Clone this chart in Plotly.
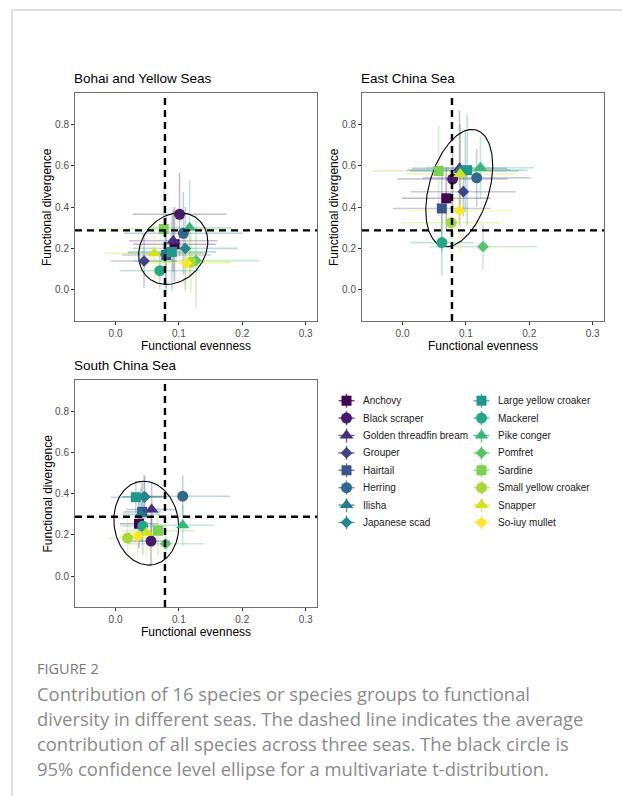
import numpy as np
import plotly.graph_objects as go

# ---------------------------------------------------------------- data
species = [
    "Anchovy", "Black scraper", "Golden threadfin bream", "Grouper",
    "Hairtail", "Herring", "Ilisha", "Japanese scad",
    "Large yellow croaker", "Mackerel", "Pike conger", "Pomfret",
    "Sardine", "Small yellow croaker", "Snapper", "So-iuy mullet",
]

seas = ["Bohai and Yellow Seas", "East China Sea", "South China Sea"]

# functional evenness (FE) and functional divergence (FD) contributions, mean and sd
bohai_fe = [0.093, 0.101, 0.091, 0.045, 0.080, 0.107, 0.079, 0.110,
            0.089, 0.070, 0.117, 0.127, 0.076, 0.119, 0.061, 0.112]
bohai_fd = [0.221, 0.366, 0.238, 0.140, 0.169, 0.274, 0.178, 0.201,
            0.184, 0.093, 0.301, 0.142, 0.295, 0.135, 0.177, 0.129]
bohai_fe_sd = [0.065, 0.074, 0.070, 0.052, 0.070, 0.094, 0.060, 0.083,
               0.070, 0.063, 0.066, 0.100, 0.107, 0.065, 0.078, 0.070]
bohai_fd_sd = [0.180, 0.200, 0.150, 0.130, 0.200, 0.200, 0.170, 0.200,
               0.190, 0.090, 0.230, 0.230, 0.200, 0.150, 0.170, 0.140]

east_fe = [0.069, 0.079, 0.090, 0.096, 0.062, 0.117, 0.091, 0.099,
           0.102, 0.062, 0.123, 0.127, 0.057, 0.077, 0.091, 0.090]
east_fd = [0.443, 0.536, 0.588, 0.475, 0.394, 0.542, 0.580, 0.575,
           0.579, 0.229, 0.591, 0.209, 0.575, 0.325, 0.560, 0.383]
east_fe_sd = [0.070, 0.087, 0.075, 0.083, 0.077, 0.085, 0.080, 0.085,
              0.095, 0.050, 0.085, 0.085, 0.105, 0.077, 0.087, 0.083]
east_fd_sd = [0.150, 0.160, 0.280, 0.120, 0.210, 0.140, 0.220, 0.200,
              0.270, 0.160, 0.150, 0.110, 0.220, 0.180, 0.210, 0.200]

south_fe = [0.037, 0.056, 0.057, 0.046, 0.042, 0.106, 0.040, 0.045,
            0.032, 0.043, 0.106, 0.079, 0.067, 0.019, 0.049, 0.035]
south_fd = [0.254, 0.170, 0.323, 0.385, 0.312, 0.388, 0.300, 0.385,
            0.383, 0.243, 0.247, 0.157, 0.220, 0.184, 0.210, 0.194]
south_fe_sd = [0.030, 0.030, 0.040, 0.035, 0.030, 0.075, 0.030, 0.035,
               0.040, 0.035, 0.050, 0.060, 0.057, 0.030, 0.035, 0.030]
south_fd_sd = [0.120, 0.120, 0.130, 0.100, 0.150, 0.100, 0.130, 0.110,
               0.080, 0.140, 0.100, 0.090, 0.120, 0.100, 0.120, 0.110]

# average contribution of all species across the three seas
mean_fe = 0.078
mean_fd = 0.288

# 95% multivariate-t ellipse per sea: centre, half extents and correlation
ell_fe_centre = [0.091, 0.0895, 0.0485]
ell_fd_centre = [0.200, 0.4925, 0.257]
ell_fe_half = [0.0546, 0.0528, 0.0512]
ell_fd_half = [0.173, 0.2835, 0.2036]
ell_rho = [0.19, 0.38, -0.08]

x_ticks = [0.0, 0.1, 0.2, 0.3]
y_ticks = [0.0, 0.2, 0.4, 0.6, 0.8]

caption_head = "FIGURE 2"
caption_lines = [
    "Contribution of 16 species or species groups to functional",
    "diversity in different seas. The dashed line indicates the average",
    "contribution of all species across three seas. The black circle is",
    "95% confidence level ellipse for a multivariate t-distribution.",
]

sea_data = [
    (bohai_fe, bohai_fd, bohai_fe_sd, bohai_fd_sd),
    (east_fe, east_fd, east_fe_sd, east_fd_sd),
    (south_fe, south_fd, south_fe_sd, south_fd_sd),
]

# ---------------------------------------------------------------- styles
viridis16 = ["#440154", "#481A6C", "#472F7D", "#414487", "#39568C", "#31688E",
             "#2A788E", "#23888E", "#1F988B", "#22A884", "#35B779", "#54C568",
             "#7AD151", "#A5DB36", "#D2E21B", "#FDE725"]
shape_cycle = ["square", "circle", "triangle-up", "diamond"]
shape_size = {"square": 10, "circle": 11, "triangle-up": 12, "diamond": 9}

W, H = 622, 796
FONT = "Liberation Sans, Arial, sans-serif"


def rgba(hex_col, a):
    h = hex_col.lstrip("#")
    r, g, b = int(h[0:2], 16), int(h[2:4], 16), int(h[4:6], 16)
    return f"rgba({r},{g},{b},{a})"


def fx(p):
    return p / W


def fy(p):
    return 1 - p / H


# panel boxes in pixels: left, right, top, bottom
panels = [(75, 317, 93, 321), (362, 604, 93, 321), (75, 317, 380, 607)]

fig = go.Figure()
layout_axes = {}
annotations = []
shapes = []

for k, (sea, (fe, fd, fe_sd, fd_sd)) in enumerate(zip(seas, sea_data)):
    ax = "" if k == 0 else str(k + 1)
    xr, yr = "x" + ax, "y" + ax
    l, r, t, b = panels[k]

    # error bars under every point
    for i, sp in enumerate(species):
        fig.add_trace(go.Scatter(
            x=[fe[i]], y=[fd[i]], xaxis=xr, yaxis=yr, mode="markers",
            marker=dict(size=1, opacity=0, color=viridis16[i]),
            error_x=dict(type="data", array=[fe_sd[i]], color=rgba(viridis16[i], 0.3),
                         thickness=1.6, width=0),
            error_y=dict(type="data", array=[fd_sd[i]], color=rgba(viridis16[i], 0.3),
                         thickness=1.6, width=0),
            showlegend=False, hoverinfo="skip"))

    # ellipse
    tt = np.linspace(0, 2 * np.pi, 200)
    rho = ell_rho[k]
    ex = ell_fe_centre[k] + ell_fe_half[k] * np.cos(tt)
    ey = ell_fd_centre[k] + ell_fd_half[k] * (rho * np.cos(tt) + np.sqrt(1 - rho ** 2) * np.sin(tt))
    fig.add_trace(go.Scatter(x=ex, y=ey, xaxis=xr, yaxis=yr, mode="lines",
                             line=dict(color="black", width=1.1),
                             showlegend=False, hoverinfo="skip"))

    # points
    for i, sp in enumerate(species):
        sym = shape_cycle[i % 4]
        fig.add_trace(go.Scatter(
            x=[fe[i]], y=[fd[i]], xaxis=xr, yaxis=yr, mode="markers", name=sp,
            marker=dict(symbol=sym, size=shape_size[sym], color=viridis16[i],
                        line=dict(width=0)),
            showlegend=False))

    # dashed reference lines
    shapes.append(dict(type="line", xref=xr, yref=yr + " domain", x0=mean_fe, x1=mean_fe,
                       y0=0, y1=1, line=dict(color="black", width=2.4, dash="7px,5px")))
    shapes.append(dict(type="line", xref=xr + " domain", yref=yr, x0=0, x1=1,
                       y0=mean_fd, y1=mean_fd, line=dict(color="black", width=2.4, dash="7px,5px")))

    axis_common = dict(showgrid=False, zeroline=False, showline=True, mirror=True,
                       linecolor="#6f6f6f", linewidth=1, ticks="outside", ticklen=3,
                       tickcolor="#333333", tickwidth=1,
                       tickfont=dict(family=FONT, size=10, color="#4d4d4d"))
    layout_axes["xaxis" + ax] = dict(axis_common, domain=[fx(l), fx(r)], anchor=yr,
                                     range=[-0.064, 0.318], tickvals=x_ticks,
                                     ticktext=[f"{v:.1f}" for v in x_ticks])
    layout_axes["yaxis" + ax] = dict(axis_common, domain=[fy(b), fy(t)], anchor=xr,
                                     range=[-0.15, 0.952], tickvals=y_ticks,
                                     ticktext=[f"{v:.1f}" for v in y_ticks])

    # titles
    annotations.append(dict(text=sea, xref="paper", yref="paper", x=fx(l), y=fy(t - 5),
                            xanchor="left", yanchor="bottom", xshift=-3, showarrow=False,
                            font=dict(family=FONT, size=13.5, color="black")))
    annotations.append(dict(text="Functional evenness", xref="paper", yref="paper",
                            x=fx((l + r) / 2), y=fy(b + 25), xanchor="center", yanchor="middle",
                            showarrow=False, font=dict(family=FONT, size=12, color="black")))
    annotations.append(dict(text="Functional divergence", xref="paper", yref="paper",
                            x=fx(l - 28), y=fy((t + b) / 2), xanchor="center", yanchor="middle",
                            textangle=-90, showarrow=False,
                            font=dict(family=FONT, size=12, color="black")))

# ---------------------------------------------------------------- legend
lg_l, lg_r, lg_t, lg_b = 323, 608, 385, 540
layout_axes["xaxis4"] = dict(domain=[fx(lg_l), fx(lg_r)], range=[lg_l, lg_r], visible=False,
                             anchor="y4", fixedrange=True)
layout_axes["yaxis4"] = dict(domain=[fy(lg_b), fy(lg_t)], range=[lg_b, lg_t], visible=False,
                             anchor="x4", fixedrange=True)
for i, sp in enumerate(species):
    col, row = divmod(i, 8)
    mx = 346.5 + col * 135
    my = 400.7 + row * 17.4
    sym = shape_cycle[i % 4]
    fig.add_trace(go.Scatter(
        x=[mx], y=[my], xaxis="x4", yaxis="y4", mode="markers",
        marker=dict(symbol=sym, size=shape_size[sym], color=viridis16[i], line=dict(width=0)),
        error_x=dict(type="constant", value=8, color=rgba(viridis16[i], 0.75), thickness=1.5, width=0),
        error_y=dict(type="constant", value=7, color=rgba(viridis16[i], 0.75), thickness=1.5, width=0),
        showlegend=False, hoverinfo="skip"))
    annotations.append(dict(text=sp, xref="x4", yref="y4", x=mx + 14, y=my,
                            xanchor="left", yanchor="middle", showarrow=False,
                            font=dict(family=FONT, size=10, color="#1a1a1a")))

# page frame
shapes.append(dict(type="line", xref="paper", yref="paper", x0=fx(12), x1=1, y0=fy(10), y1=fy(10),
                   line=dict(color="#d6d6d6", width=1.5)))
shapes.append(dict(type="line", xref="paper", yref="paper", x0=fx(12), x1=fx(12), y0=0, y1=fy(10),
                   line=dict(color="#d6d6d6", width=1.5)))

# ---------------------------------------------------------------- caption
CAP_FONT = "Open Sans, Noto Sans, sans-serif"
annotations.append(dict(text=caption_head, xref="paper", yref="paper", x=fx(35), y=fy(668),
                        xanchor="left", yanchor="middle", showarrow=False,
                        font=dict(family=CAP_FONT, size=14.5, color="#7a7a7a")))
for j, line in enumerate(caption_lines):
    annotations.append(dict(text=line, xref="paper", yref="paper", x=fx(35), y=fy(693 + 25 * j),
                            xanchor="left", yanchor="middle", showarrow=False,
                            font=dict(family=CAP_FONT, size=18.4, color="#8a8a8a")))

fig.update_layout(
    width=W, height=H, margin=dict(l=0, r=0, t=0, b=0),
    paper_bgcolor="white", plot_bgcolor="white",
    annotations=annotations, shapes=shapes, showlegend=False,
    **layout_axes,
)

fig.write_html("out.html")
